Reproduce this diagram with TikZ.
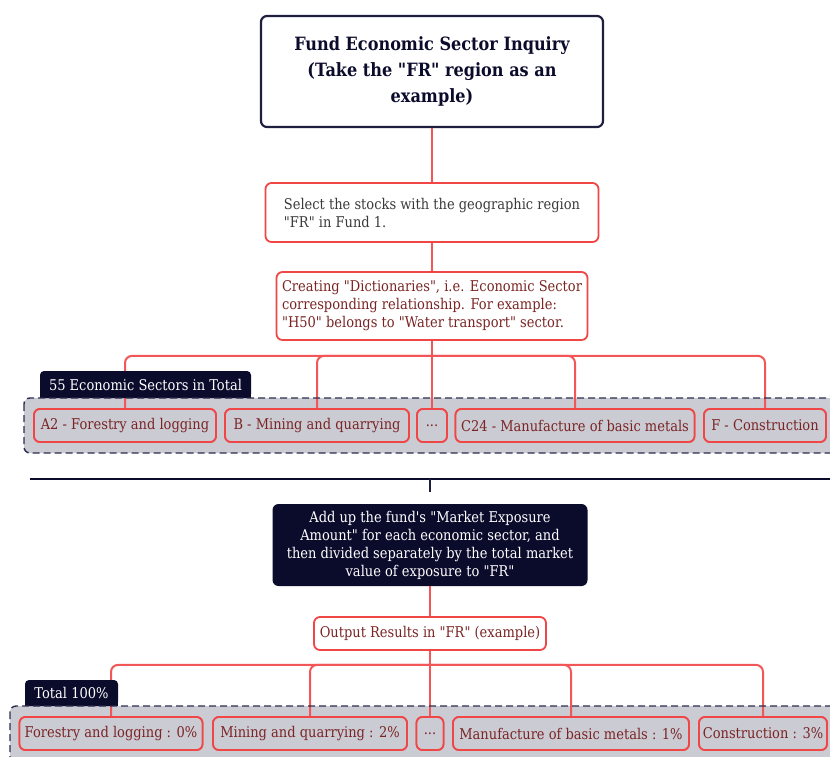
\documentclass[tikz,border=0pt]{standalone}
\usepackage{fontspec}
\setmainfont{DejaVu Serif}[Ligatures=TeXOff, FakeStretch=0.88]
\usetikzlibrary{calc}
\definecolor{navy}{HTML}{0B0B2C}
\definecolor{navyline}{HTML}{1E1E3E}
\definecolor{linkred}{HTML}{F25656}
\definecolor{boxred}{HTML}{F04646}
\definecolor{darkred}{HTML}{7A2424}
\definecolor{bodygray}{HTML}{3A3A3A}
\definecolor{groupgray}{HTML}{CBCBD4}
\definecolor{dashnavy}{HTML}{2C2C4E}
\tikzset{
  every node/.style={font=\fontsize{14.8}{18}\selectfont},
  conn/.style={draw=linkred, line width=2pt},
  bus/.style={conn, rounded corners=7pt},
  titlebox/.style={draw=navyline, line width=2.2pt, fill=white, rounded corners=6pt,
    text=navy, align=center, font=\fontsize{18.3}{26}\selectfont\bfseries},
  redbox/.style={draw=boxred, line width=1.8pt, fill=white, rounded corners=6pt},
  itembox/.style={draw=boxred, line width=1.8pt, fill=groupgray, rounded corners=6pt,
    text=darkred, minimum height=33pt, inner sep=0pt},
  darkbox/.style={fill=navy, rounded corners=6pt, text=white, align=center},
  tabnode/.style={text=white, inner sep=0pt},
  groupfill/.style={fill=groupgray, rounded corners=6pt},
  groupedge/.style={draw=dashnavy, line width=1.4pt, dash pattern=on 7pt off 4pt, rounded corners=6pt},
  rule/.style={draw=navy, line width=2.6pt},
  tick/.style={draw=navyline, line width=1.4pt},
}
\begin{document}
\begin{tikzpicture}[x=1pt, y=-1pt]
\useasboundingbox (0,0) rectangle (830,756);

% ---------- upper part: selecting sectors ----------
\node[titlebox, minimum width=342pt, minimum height=111pt] (title) at (432,71.5)
  {Fund Economic Sector Inquiry\\ (Take the "FR" region as an\\example)};

\node[redbox, text=bodygray, align=left, inner sep=0pt,
      minimum width=333pt, minimum height=59pt] (sel) at (432,212.5)
  {Select the stocks with the geographic region\\"FR" in Fund 1.};

\node[redbox, text=darkred, align=left, inner sep=0pt,
      minimum width=311pt, minimum height=68pt] (dict) at (432,306)
  {Creating "Dictionaries", i.e. Economic Sector\\corresponding relationship. For example:\\"H50" belongs to "Water transport" sector.};

\draw[conn] (title.south) -- (sel.north);
\draw[conn] (sel.south) -- (dict.north);

% group frame of the sector list
\fill[groupfill] (24,398) rectangle (850,453);

% sector items (placed now so that the connectors can reach them)
\path
  node[itembox, minimum width=182pt] (a2)  at (125,425.5) {A2 - Forestry and logging}
  node[itembox, minimum width=184pt] (b)   at (317,425.5) {B - Mining and quarrying}
  node[itembox, minimum width=30pt]  (d1)  at (432,425.5) {...}
  node[itembox, minimum width=239pt] (c24) at (575,425.5) {C24 - Manufacture of basic metals}
  node[itembox, minimum width=122pt] (f)   at (765,425.5) {F - Construction};

\coordinate (busA) at ($(dict.south)+(0,15)$);
\draw[conn] (dict.south) -- (d1.north);
\draw[bus] (busA) -| (a2.north);
\draw[bus] (busA) -| (b.north);
\draw[bus] (busA) -| (c24.north);
\draw[bus] (busA) -| (f.north);

% tab label of the group
\fill[navy, rounded corners=4pt] (40,371) rectangle (251,398);
\fill[navy] (40,385) rectangle (251,398);
\node[tabnode] (tabA) at (145.5,385) {55 Economic Sectors in Total};

\draw[groupedge] (24,398) rectangle (850,453);

% redraw items above the frame
\path
  node[itembox, minimum width=182pt] at (a2) {A2 - Forestry and logging}
  node[itembox, minimum width=184pt] at (b) {B - Mining and quarrying}
  node[itembox, minimum width=30pt]  at (d1) {...}
  node[itembox, minimum width=239pt] at (c24) {C24 - Manufacture of basic metals}
  node[itembox, minimum width=122pt] at (f) {F - Construction};

% ---------- separator ----------
\coordinate (ruleL) at (30,479);
\coordinate (ruleR) at (830,479);
\coordinate (ruleM) at (430,479);
\coordinate (tickEnd) at (430,492);
\draw[rule] (ruleL) -- (ruleR);
\draw[tick] (ruleM) -- (tickEnd);

% ---------- lower part: results ----------
\node[darkbox, minimum width=315pt, minimum height=82pt, inner sep=0pt] (add) at (430,545)
  {Add up the fund's "Market Exposure\\Amount" for each economic sector, and\\then divided separately by the total market\\value of exposure to "FR"};

\node[redbox, text=darkred, minimum width=232pt, minimum height=33pt, inner sep=0pt] (out) at (430,633.5)
  {Output Results in "FR" (example)};

\draw[conn] (add.south) -- (out.north);

\fill[groupfill] (10,706) rectangle (850,790);

\path
  node[itembox, minimum width=183pt] (r1) at (111,733.5) {Forestry and logging : 0\%}
  node[itembox, minimum width=194pt] (r2) at (310,733.5) {Mining and quarrying : 2\%}
  node[itembox, minimum width=27pt]  (r3) at (430,733.5) {...}
  node[itembox, minimum width=236pt] (r4) at (571,733.5) {Manufacture of basic metals : 1\%}
  node[itembox, minimum width=128pt] (r5) at (763,733.5) {Construction : 3\%};

\coordinate (busB) at ($(out.south)+(0,14)$);
\draw[conn] (out.south) -- (r3.north);
\draw[bus] (busB) -| (r1.north);
\draw[bus] (busB) -| (r2.north);
\draw[bus] (busB) -| (r4.north);
\draw[bus] (busB) -| (r5.north);

\fill[navy, rounded corners=4pt] (25,680) rectangle (118,706);
\fill[navy] (25,693) rectangle (118,706);
\node[tabnode] (tabB) at (71.5,693) {Total 100\%};

\draw[groupedge] (10,706) rectangle (850,790);

\path
  node[itembox, minimum width=183pt] at (r1) {Forestry and logging : 0\%}
  node[itembox, minimum width=194pt] at (r2) {Mining and quarrying : 2\%}
  node[itembox, minimum width=27pt]  at (r3) {...}
  node[itembox, minimum width=236pt] at (r4) {Manufacture of basic metals : 1\%}
  node[itembox, minimum width=128pt] at (r5) {Construction : 3\%};
\end{tikzpicture}
\end{document}
